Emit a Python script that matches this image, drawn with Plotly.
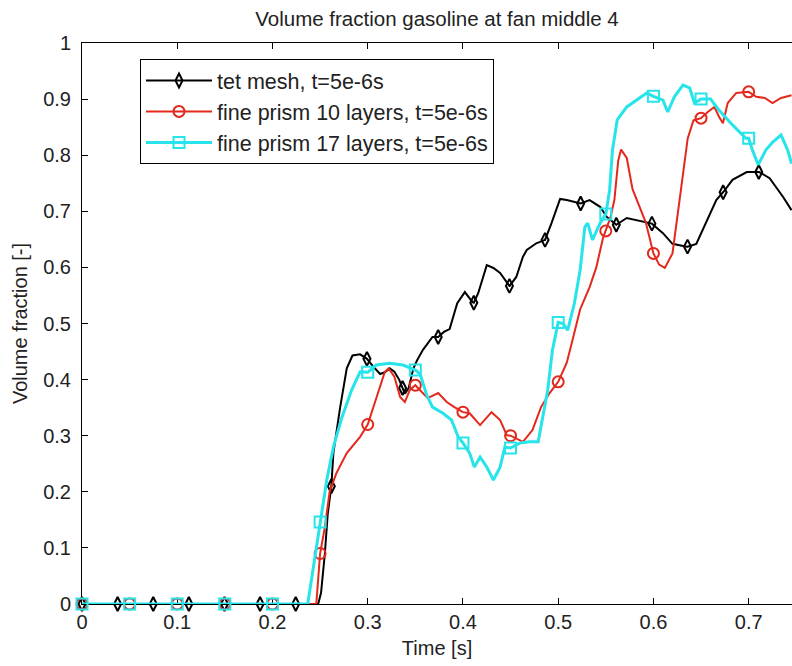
import plotly.graph_objects as go

# ---------------- data ----------------
tet_t = [0.0, 0.248, 0.251, 0.255, 0.258, 0.264, 0.271, 0.278, 0.284, 0.292, 0.298, 0.305,
         0.313, 0.318, 0.323, 0.328, 0.333, 0.339, 0.343, 0.348, 0.352, 0.358, 0.368, 0.380,
         0.386, 0.394, 0.402, 0.410, 0.416, 0.425, 0.432, 0.439, 0.449, 0.456, 0.463, 0.467,
         0.477, 0.486, 0.493, 0.502, 0.509, 0.523, 0.533, 0.544, 0.551, 0.561, 0.572, 0.582,
         0.598, 0.610, 0.620, 0.635, 0.645, 0.656, 0.666, 0.673, 0.683, 0.698, 0.711, 0.722,
         0.736, 0.745]
tet_v = [0.0, 0.0, 0.02, 0.09, 0.16, 0.27, 0.35, 0.42, 0.443, 0.445, 0.437, 0.425,
         0.41, 0.413, 0.42, 0.414, 0.40, 0.375, 0.385, 0.42, 0.435, 0.453, 0.476, 0.485,
         0.49, 0.536, 0.556, 0.538, 0.554, 0.604, 0.599, 0.59, 0.567, 0.583, 0.619, 0.631,
         0.643, 0.649, 0.679, 0.722, 0.72, 0.714, 0.72, 0.708, 0.69, 0.676, 0.688, 0.684,
         0.678, 0.661, 0.642, 0.637, 0.642, 0.684, 0.72, 0.734, 0.756, 0.77, 0.77, 0.759,
         0.726, 0.702]
tet_mark_t = [0.0, 0.0374, 0.0748, 0.1122, 0.1496, 0.187, 0.2244, 0.2618, 0.2992, 0.3366,
              0.374, 0.4114, 0.4488, 0.4862, 0.5236, 0.561, 0.5984, 0.6358, 0.6732, 0.7106]
tet_mark_v = [0.0, 0.0, 0.0, 0.0, 0.0, 0.0, 0.0, 0.21, 0.437, 0.385,
              0.476, 0.537, 0.567, 0.649, 0.714, 0.676, 0.678, 0.637, 0.734, 0.77]

p10_t = [0.0, 0.246, 0.25, 0.255, 0.26, 0.267, 0.278, 0.292, 0.30, 0.307, 0.313, 0.318,
         0.322, 0.328, 0.334, 0.339, 0.344, 0.35, 0.355, 0.363, 0.374, 0.383, 0.391, 0.40,
         0.407, 0.418, 0.43, 0.439, 0.446, 0.45, 0.463, 0.473, 0.482, 0.491, 0.50, 0.509,
         0.515, 0.523, 0.533, 0.54, 0.547, 0.55, 0.555, 0.559, 0.563, 0.566, 0.572, 0.578,
         0.585, 0.592, 0.60, 0.606, 0.612, 0.62, 0.629, 0.636, 0.642, 0.65, 0.657, 0.664,
         0.669, 0.673, 0.678, 0.687, 0.70, 0.708, 0.717, 0.725, 0.734, 0.745]
p10_v = [0.0, 0.0, 0.09, 0.137, 0.2, 0.233, 0.269, 0.298, 0.32, 0.358, 0.387, 0.414,
         0.42, 0.405, 0.369, 0.36, 0.381, 0.39, 0.381, 0.367, 0.376, 0.36, 0.351, 0.342,
         0.34, 0.319, 0.342, 0.328, 0.301, 0.30, 0.289, 0.31, 0.351, 0.376, 0.396, 0.43,
         0.47, 0.525, 0.565, 0.60, 0.652, 0.665, 0.69, 0.72, 0.79, 0.81, 0.795, 0.74,
         0.71, 0.68, 0.625, 0.605, 0.599, 0.625, 0.74, 0.83, 0.862, 0.866, 0.877, 0.886,
         0.868, 0.857, 0.893, 0.911, 0.913, 0.904, 0.902, 0.893, 0.902, 0.907]
p10_mark_t = [0.0, 0.05, 0.1, 0.15, 0.2, 0.25, 0.3, 0.35, 0.4, 0.45, 0.5, 0.55, 0.6, 0.65, 0.7]
p10_mark_v = [0.0, 0.0, 0.0, 0.0, 0.0, 0.09, 0.32, 0.39, 0.342, 0.30, 0.396, 0.665, 0.625, 0.866, 0.913]

p17_t = [0.0, 0.237, 0.243, 0.25, 0.257, 0.264, 0.273, 0.283, 0.292, 0.30, 0.309, 0.323,
         0.337, 0.35, 0.355, 0.362, 0.368, 0.379, 0.388, 0.395, 0.40, 0.407, 0.412, 0.418,
         0.425, 0.432, 0.439, 0.444, 0.45, 0.46, 0.47, 0.479, 0.484, 0.489, 0.494, 0.50,
         0.505, 0.51, 0.517, 0.523, 0.528, 0.531, 0.536, 0.544, 0.55, 0.554, 0.557, 0.562,
         0.572, 0.582, 0.593, 0.60, 0.61, 0.615, 0.622, 0.631, 0.638, 0.643, 0.65, 0.66,
         0.669, 0.683, 0.697, 0.704, 0.71, 0.718, 0.725, 0.734, 0.741, 0.745]
p17_v = [0.0, 0.0, 0.066, 0.146, 0.221, 0.28, 0.333, 0.381, 0.414, 0.413, 0.426, 0.429,
         0.426, 0.417, 0.41, 0.372, 0.351, 0.34, 0.328, 0.298, 0.287, 0.269, 0.244, 0.262,
         0.244, 0.221, 0.244, 0.28, 0.278, 0.287, 0.289, 0.289, 0.333, 0.381, 0.453, 0.502,
         0.50, 0.488, 0.536, 0.595, 0.672, 0.679, 0.649, 0.679, 0.695, 0.738, 0.809, 0.863,
         0.886, 0.898, 0.911, 0.905, 0.898, 0.877, 0.904, 0.925, 0.92, 0.893, 0.90, 0.90,
         0.88, 0.854, 0.83, 0.809, 0.783, 0.809, 0.823, 0.836, 0.809, 0.785]
p17_mark_t = [0.0, 0.05, 0.1, 0.15, 0.2, 0.25, 0.3, 0.35, 0.4, 0.45, 0.5, 0.55, 0.6, 0.65, 0.7]
p17_mark_v = [0.0, 0.0, 0.0, 0.0, 0.0, 0.146, 0.413, 0.417, 0.287, 0.278, 0.502, 0.695, 0.905, 0.90, 0.83]

series_names = ["tet mesh, t=5e-6s",
                "fine prism 10 layers, t=5e-6s",
                "fine prism 17 layers, t=5e-6s"]

x_ticks = [0, 0.1, 0.2, 0.3, 0.4, 0.5, 0.6, 0.7]
x_tick_labels = ["0", "0.1", "0.2", "0.3", "0.4", "0.5", "0.6", "0.7"]
y_ticks = [0, 0.1, 0.2, 0.3, 0.4, 0.5, 0.6, 0.7, 0.8, 0.9, 1]
y_tick_labels = ["0", "0.1", "0.2", "0.3", "0.4", "0.5", "0.6", "0.7", "0.8", "0.9", "1"]

# ---------------- styling ----------------
FONT = "Liberation Sans, Arial, sans-serif"
TXT = "#222222"
styles = [
    dict(color="#000000", width=2.0, symbol="diamond-tall-open", size=10),
    dict(color="#e3281c", width=2.0, symbol="circle-open", size=11),
    dict(color="#26e4ea", width=3.0, symbol="square-open", size=11),
]


def merged(t, v, mt, mv):
    pts = sorted(set(zip(t, v)) | set(zip(mt, mv)))
    return [p[0] for p in pts], [p[1] for p in pts]


series = [
    (tet_t, tet_v, tet_mark_t, tet_mark_v),
    (p10_t, p10_v, p10_mark_t, p10_mark_v),
    (p17_t, p17_v, p17_mark_t, p17_mark_v),
]

fig = go.Figure()
for i, (t, v, mt, mv) in enumerate(series):
    st = styles[i]
    lx, ly = merged(t, v, mt, mv)
    fig.add_trace(go.Scatter(x=lx, y=ly, mode="lines", showlegend=False,
                             legendgroup=f"g{i}",
                             line=dict(color=st["color"], width=st["width"]),
                             hoverinfo="skip"))
    fig.add_trace(go.Scatter(x=mt, y=mv, mode="markers", showlegend=False,
                             legendgroup=f"g{i}", cliponaxis=False,
                             marker=dict(symbol=st["symbol"], size=st["size"],
                                         color=st["color"],
                                         line=dict(color=st["color"], width=2)),
                             hoverinfo="skip"))

for i, name in enumerate(series_names):
    st = styles[i]
    fig.add_trace(go.Scatter(x=[None], y=[None], mode="lines+markers", name=name,
                             legendgroup=f"g{i}", showlegend=True,
                             line=dict(color=st["color"], width=st["width"]),
                             marker=dict(symbol=st["symbol"], size=st["size"],
                                         color=st["color"],
                                         line=dict(color=st["color"], width=2))))

axis_common = dict(
    showgrid=False, zeroline=False, showline=True, linecolor="black", linewidth=1,
    ticks="inside", ticklen=6, tickwidth=1, tickcolor="black",
    tickfont=dict(family=FONT, size=20, color=TXT), layer="below traces",
)

fig.update_layout(
    width=792, height=666,
    margin=dict(l=82, r=0, t=43, b=62),
    paper_bgcolor="white", plot_bgcolor="white",
    font=dict(family=FONT, size=20, color=TXT),
    title=dict(text="Volume fraction gasoline at fan middle 4",
               font=dict(family=FONT, size=20.5, color=TXT),
               x=0.5, xref="paper", xanchor="center",
               y=(666 - 19) / 666, yref="container", yanchor="middle"),
    xaxis=dict(range=[0, 0.7455], tickvals=x_ticks, ticktext=x_tick_labels,
               mirror="ticks",
               title=dict(text="Time [s]", font=dict(family=FONT, size=20, color=TXT),
                          standoff=8),
               **axis_common),
    yaxis=dict(range=[0, 1], tickvals=y_ticks, ticktext=y_tick_labels,
               mirror=False, ticklabelstandoff=6,
               title=dict(text="Volume fraction [-]", font=dict(family=FONT, size=20, color=TXT),
                          standoff=10),
               **axis_common),
    legend=dict(x=(140 - 82) / 710, y=1 - (59 - 43) / 561, xanchor="left", yanchor="top",
                bgcolor="white", bordercolor="black", borderwidth=1,
                font=dict(family=FONT, size=21.5, color=TXT),
                traceorder="grouped", tracegroupgap=0, itemwidth=66),
)

fig.write_html("out.html")
